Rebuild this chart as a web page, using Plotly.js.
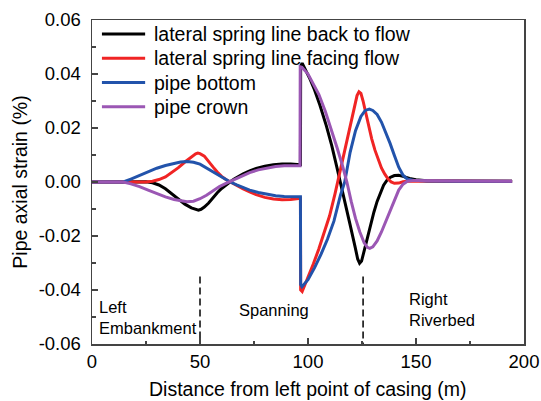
<!DOCTYPE html>
<html>
<head>
<meta charset="utf-8">
<script src="https://cdn.plot.ly/plotly-3.0.1.min.js"></script>
<style>
  html, body { margin: 0; padding: 0; background: #ffffff; }
  #chart { width: 541px; height: 401px; }
</style>
</head>
<body>
<div id="chart"></div>
<script>
// Pipe axial strain (%) along the casing, four measuring lines
const seriesNames = [
  'lateral spring line back to flow',
  'lateral spring line facing flow',
  'pipe bottom',
  'pipe crown'
];
const seriesColors = ['#000000', '#f02424', '#2253ab', '#9b57b4'];

// lateral spring line back to flow
const backX = [0, 10, 20, 25, 28, 31, 34, 37, 40, 43, 46, 48, 49.3, 50.5, 52, 54, 56, 58, 60, 62, 64, 66, 68, 70, 73, 76, 80, 84, 88, 92, 96.5,
  96.6, 97.3, 99, 101, 103, 105.5, 108.5, 111, 113.3, 115, 117, 119.4, 121.8, 123, 123.9, 124.8, 126, 127.5, 129, 130.5, 132, 133.5,
  135, 136.5, 138, 140, 142, 144, 147, 150, 155, 165, 180, 194.5];
const backY = [0, 0, 0.0002, 0.0001, -0.0003, -0.0011, -0.0025, -0.0045, -0.0065, -0.0082, -0.0096, -0.0102, -0.0104, -0.0101, -0.0093,
  -0.0078, -0.0058, -0.0040, -0.0024, -0.0010, 0.0001, 0.0012, 0.0022, 0.0030, 0.0041, 0.0050, 0.0058, 0.0064, 0.0067, 0.0067, 0.0064,
  0.0430, 0.0440, 0.0413, 0.0380, 0.0342, 0.0285, 0.0208, 0.0135, 0.0057, -0.0005, -0.0075, -0.0155, -0.0240, -0.0285, -0.0301, -0.0293,
  -0.0255, -0.0205, -0.0157, -0.0112, -0.0072, -0.0038, -0.0012, 0.0006, 0.0017, 0.0024, 0.0025, 0.0021, 0.0013, 0.0008, 0.0005, 0.0004,
  0.0003, 0.0003];

// lateral spring line facing flow
const faceX = [0, 10, 20, 25, 28, 31, 34, 37, 40, 43, 46, 48, 49, 50, 52, 54, 56, 58, 60, 62, 64, 66, 68, 70, 73, 76, 80, 84, 88, 92, 96.5,
  96.6, 97.3, 100, 102.5, 105, 107.5, 110, 112.5, 115, 117.5, 120, 121.5, 122.7, 123.6, 124.5, 125.5, 126.5, 128, 129.5, 131, 132.5,
  134, 135.5, 137, 138.5, 140, 142, 144, 147, 150, 160, 180, 194.5];
const faceY = [0, 0, -0.0001, 0, 0.0003, 0.0009, 0.0019, 0.0035, 0.0053, 0.0074, 0.0094, 0.0104, 0.0107, 0.0105, 0.0096, 0.0078, 0.0056,
  0.0037, 0.0021, 0.0009, 0.0000, -0.0009, -0.0018, -0.0026, -0.0037, -0.0047, -0.0057, -0.0063, -0.0066, -0.0065, -0.0060,
  -0.0400, -0.0406, -0.0355, -0.0303, -0.0248, -0.0189, -0.0125, -0.0044, 0.0045, 0.0140, 0.0235, 0.0285, 0.0320, 0.0334, 0.0328,
  0.0300, 0.0265, 0.0210, 0.0160, 0.0118, 0.0081, 0.0052, 0.0030, 0.0012, 0.0000, -0.0005, -0.0004, 0.0001, 0.0004, 0.0004, 0.0004,
  0.0003, 0.0003];

// pipe bottom
const bottomX = [0, 10, 14.5, 18, 22, 26, 30, 34, 38, 41, 44, 47, 50, 53, 56, 59, 62, 64, 67, 70, 73, 77, 81, 85, 89, 93, 96.5,
  96.6, 97.2, 100, 103, 106, 109, 112, 115, 117, 119.5, 122, 124.5, 126.5, 128.4, 130, 132, 134, 136, 138, 140, 142, 144, 146, 149,
  155, 170, 194.5];
const bottomY = [0, 0, 0.0000, 0.0011, 0.0025, 0.0039, 0.0051, 0.0061, 0.0069, 0.0074, 0.0076, 0.0073, 0.0066, 0.0052, 0.0037, 0.0021,
  0.0008, 0.0000, -0.0011, -0.0021, -0.0030, -0.0039, -0.0046, -0.0051, -0.0054, -0.0055, -0.0055,
  -0.0380, -0.0388, -0.0362, -0.0318, -0.0268, -0.0212, -0.0145, -0.0050, 0.0000, 0.0110, 0.0190, 0.0243, 0.0265, 0.0270, 0.0265,
  0.0250, 0.0222, 0.0185, 0.0143, 0.0098, 0.0055, 0.0025, 0.0011, 0.0006, 0.0004, 0.0003, 0.0003];

// pipe crown
const crownX = [0, 10, 14.5, 18, 22, 26, 30, 34, 38, 41, 44, 47, 50, 53, 56, 59, 62, 64, 67, 70, 73, 77, 81, 85, 89, 93, 96.3,
  96.4, 97.2, 100, 102.5, 105, 108, 111, 113.5, 116, 118, 120, 122, 124, 126, 127.5, 128.6, 130, 132, 134, 136, 138, 140, 142, 144,
  146, 149, 155, 170, 194.5];
const crownY = [0, 0, 0.0000, -0.0007, -0.0017, -0.0030, -0.0043, -0.0055, -0.0065, -0.0070, -0.0073, -0.0071, -0.0062, -0.0049,
  -0.0033, -0.0017, -0.0005, 0.0002, 0.0014, 0.0025, 0.0035, 0.0045, 0.0052, 0.0057, 0.0060, 0.0061, 0.0060,
  0.0427, 0.0425, 0.0400, 0.0365, 0.0325, 0.0262, 0.0192, 0.0126, 0.0060, 0.0000, -0.0072, -0.0135, -0.0185, -0.0225, -0.0242,
  -0.0246, -0.0240, -0.0218, -0.0185, -0.0147, -0.0105, -0.0065, -0.0030, -0.0008, 0.0003, 0.0006, 0.0005, 0.0004, 0.0003];

// zone boundaries (m) and the strain span of their dashed markers
const boundaryX = [50, 125.5];
const boundaryY = [-0.035, -0.06];

// zone names
const zoneText = ['Left<br>Embankment', 'Spanning', 'Right<br>Riverbed'];
const zoneX = [2.3, 67, 145.8];
const zoneY = [-0.0500, -0.0474, -0.0472];

// axis ticks and titles
const xTickVals = [0, 50, 100, 150, 200];
const yTickVals = [-0.06, -0.04, -0.02, 0, 0.02, 0.04, 0.06];
const yTickText = ['-0.06', '-0.04', '-0.02', '0.00', '0.02', '0.04', '0.06'];
const xTitle = 'Distance from left point of casing (m)';
const yTitle = 'Pipe axial strain (%)';

const FONT = 'Arial, "Liberation Sans", sans-serif';

const xs = [backX, faceX, bottomX, crownX];
const ys = [backY, faceY, bottomY, crownY];

const traces = [];
boundaryX.forEach(bx => {
  traces.push({
    x: [bx, bx], y: boundaryY, mode: 'lines', showlegend: false, hoverinfo: 'skip',
    line: { color: '#000000', width: 1.5, dash: '7px,4px' }
  });
});
seriesNames.forEach((name, i) => {
  traces.push({
    x: xs[i], y: ys[i], name: name, mode: 'lines', showlegend: false,
    line: { color: seriesColors[i], width: 3 }
  });
});

// hand-placed legend box in the upper left of the plot
const shapes = [];
const annotations = [];
seriesNames.forEach((name, i) => {
  const yy = 0.957 - i * 0.075;
  shapes.push({
    type: 'line', xref: 'paper', yref: 'paper',
    x0: 0.023, x1: 0.123, y0: yy, y1: yy,
    line: { color: seriesColors[i], width: 3 }
  });
  annotations.push({
    xref: 'paper', yref: 'paper', x: 0.139, y: yy, xanchor: 'left', yanchor: 'middle',
    text: name, showarrow: false, font: { family: FONT, size: 19.5, color: '#000000' }
  });
});
zoneText.forEach((t, i) => {
  annotations.push({
    x: zoneX[i], y: zoneY[i], xref: 'x', yref: 'y', xanchor: 'left', yanchor: 'middle', align: 'left',
    text: t, showarrow: false, font: { family: FONT, size: 16.5, color: '#000000' }
  });
});
// x-axis title, set low near the bottom edge
annotations.push({
  xref: 'paper', yref: 'paper', x: 0.5, y: 0, xanchor: 'center', yanchor: 'middle', yshift: -45,
  text: xTitle, showarrow: false, font: { family: FONT, size: 19.5, color: '#000000' }
});

const axisCommon = {
  showgrid: false, zeroline: false, showline: true, mirror: true,
  linecolor: '#444444', linewidth: 1.5,
  ticks: 'inside', ticklen: 6, tickwidth: 1.3, tickcolor: '#444444',
  tickfont: { family: FONT, size: 18.5, color: '#000000' }
};

const layout = {
  width: 541, height: 401,
  margin: { l: 92, r: 17, t: 20, b: 57 },
  paper_bgcolor: '#ffffff', plot_bgcolor: '#ffffff',
  font: { family: FONT, color: '#000000' },
  showlegend: false,
  xaxis: Object.assign({}, axisCommon, {
    range: [0, 200], tickmode: 'array', tickvals: xTickVals,
    minor: { dtick: 25, tick0: 0, ticks: 'inside', ticklen: 3.5, tickwidth: 1.3, tickcolor: '#444444' }
  }),
  yaxis: Object.assign({}, axisCommon, {
    range: [-0.06, 0.06], tickmode: 'array', tickvals: yTickVals, ticktext: yTickText,
    ticklabelstandoff: 6,
    minor: { dtick: 0.01, tick0: 0, ticks: 'inside', ticklen: 3.5, tickwidth: 1.3, tickcolor: '#444444' },
    title: { text: yTitle, font: { family: FONT, size: 19.5, color: '#000000' }, standoff: 6 }
  }),
  shapes: shapes,
  annotations: annotations
};

Plotly.newPlot('chart', traces, layout, { staticPlot: true, displayModeBar: false });
</script>
</body>
</html>
